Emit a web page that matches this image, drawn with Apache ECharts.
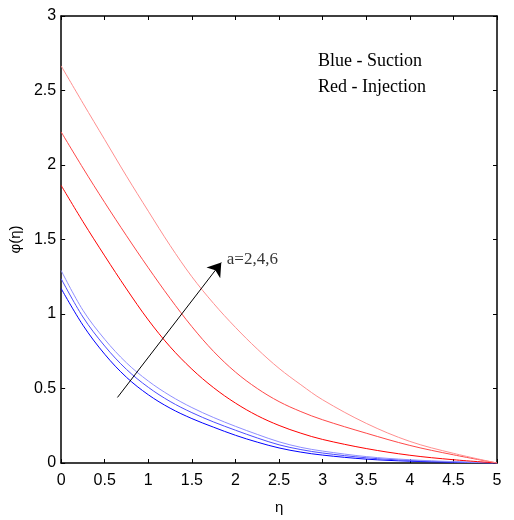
<!DOCTYPE html>
<html>
<head>
<meta charset="utf-8">
<script src="https://cdn.jsdelivr.net/npm/echarts@6/dist/echarts.min.js"></script>
<style>
  html, body { margin: 0; padding: 0; background: #fff; }
  #chart { width: 514px; height: 520px; }
</style>
</head>
<body>
<div id="chart"></div>
<script>
// Similarity variable η (shared by every profile)
const eta = [0, 0.25, 0.5, 0.75, 1, 1.25, 1.5, 1.75, 2, 2.25, 2.5, 2.75, 3, 3.5, 4, 4.5, 5];

// Suction profiles φ(η) for a = 2, 4, 6
const suctionA2 = [1.171, 0.925, 0.730, 0.575, 0.458, 0.368, 0.298, 0.240, 0.186, 0.140, 0.101, 0.073, 0.053, 0.026, 0.012, 0.005, 0];
const suctionA4 = [1.237, 0.980, 0.785, 0.628, 0.508, 0.413, 0.338, 0.275, 0.220, 0.168, 0.122, 0.090, 0.067, 0.035, 0.017, 0.007, 0];
const suctionA6 = [1.292, 1.025, 0.830, 0.672, 0.550, 0.452, 0.372, 0.305, 0.246, 0.192, 0.142, 0.105, 0.080, 0.043, 0.022, 0.009, 0];

// Injection profiles φ(η) for a = 2, 4, 6
const injectionA2 = [1.863, 1.620, 1.390, 1.168, 0.960, 0.780, 0.630, 0.505, 0.402, 0.318, 0.252, 0.200, 0.158, 0.097, 0.052, 0.022, 0];
const injectionA4 = [2.222, 1.980, 1.748, 1.525, 1.310, 1.105, 0.915, 0.748, 0.610, 0.500, 0.412, 0.345, 0.290, 0.200, 0.118, 0.055, 0];
const injectionA6 = [2.665, 2.415, 2.170, 1.925, 1.690, 1.460, 1.250, 1.070, 0.910, 0.765, 0.635, 0.525, 0.424, 0.266, 0.145, 0.065, 0];

// Arrow showing the direction of increasing a, and its caption
const arrowFrom = [0.646, 0.44];
const arrowTo = [1.837, 1.345];
const arrowCaption = 'a=2,4,6';
const captionAt = [1.90, 1.365];

const legendLines = ['Blue - Suction', 'Red - Injection'];

const blueShades = ['#0000ff', '#4d4dff', '#8f8fff'];
const redShades = ['#ff0000', '#ff4848', '#ff8f8f'];

const tickFont = '"Liberation Sans Narrow", "Liberation Sans", Arial, sans-serif';
const serifFont = '"Liberation Serif", "Times New Roman", serif';

function pairs(ys) { return eta.map((x, i) => [x, ys[i]]); }

function profile(name, ys, color) {
  return {
    name: name,
    type: 'line',
    data: pairs(ys),
    showSymbol: false,
    smooth: 0.35,
    lineStyle: { color: color, width: 1 },
    itemStyle: { color: color },
    silent: true,
    animation: false
  };
}

const tickStyle = { inside: true, length: 4, lineStyle: { color: '#000', width: 1 } };
function frameLine() { return { onZero: false, lineStyle: { color: '#000', width: 1.5 } }; }

const chart = echarts.init(document.getElementById('chart'), null, { renderer: 'canvas' });

chart.setOption({
  animation: false,
  backgroundColor: '#fff',
  grid: { left: 56, right: 17, top: 16, bottom: 49, containLabel: false },
  xAxis: [
    {
      type: 'value', min: 0, max: 5, interval: 0.5,
      name: 'η', nameLocation: 'middle', nameGap: 37,
      nameTextStyle: { fontFamily: tickFont, fontSize: 15, color: '#000' },
      axisLine: frameLine(), axisTick: tickStyle,
      axisLabel: { fontFamily: tickFont, fontSize: 16, color: '#000', margin: 10 },
      splitLine: { show: false }
    },
    {
      type: 'value', min: 0, max: 5, interval: 0.5, position: 'top',
      axisLine: frameLine(), axisTick: tickStyle,
      axisLabel: { show: false }, splitLine: { show: false }
    }
  ],
  yAxis: [
    {
      type: 'value', min: 0, max: 3, interval: 0.5,
      name: 'φ(η)', nameLocation: 'middle', nameGap: 34, nameRotate: 90,
      nameTextStyle: { fontFamily: tickFont, fontSize: 15, color: '#000' },
      axisLine: frameLine(), axisTick: tickStyle,
      axisLabel: { fontFamily: tickFont, fontSize: 16, color: '#000', margin: 5 },
      splitLine: { show: false }
    },
    {
      type: 'value', min: 0, max: 3, interval: 0.5, position: 'right',
      axisLine: frameLine(), axisTick: tickStyle,
      axisLabel: { show: false }, splitLine: { show: false }
    }
  ],
  series: [
    profile('Suction a=2', suctionA2, blueShades[0]),
    profile('Suction a=4', suctionA4, blueShades[1]),
    profile('Suction a=6', suctionA6, blueShades[2]),
    profile('Injection a=2', injectionA2, redShades[0]),
    profile('Injection a=4', injectionA4, redShades[1]),
    profile('Injection a=6', injectionA6, redShades[2]),
    {
      type: 'lines',
      coordinateSystem: 'cartesian2d',
      data: [{ coords: [arrowFrom, arrowTo] }],
      symbol: ['none', 'arrow'],
      symbolSize: [0, 13],
      lineStyle: { color: '#000', width: 1, opacity: 1 },
      silent: true,
      z: 5
    },
    {
      type: 'scatter',
      data: [captionAt],
      symbolSize: 0,
      silent: true,
      label: {
        show: true, position: 'right', distance: 0,
        formatter: arrowCaption,
        fontFamily: serifFont, fontSize: 17, color: '#000'
      }
    }
  ],
  graphic: legendLines.map((t, i) => ({
    type: 'text',
    left: 318,
    top: 52 + i * 26,
    style: { text: t, font: '18px ' + serifFont, fill: '#000' },
    silent: true
  }))
});
</script>
</body>
</html>
